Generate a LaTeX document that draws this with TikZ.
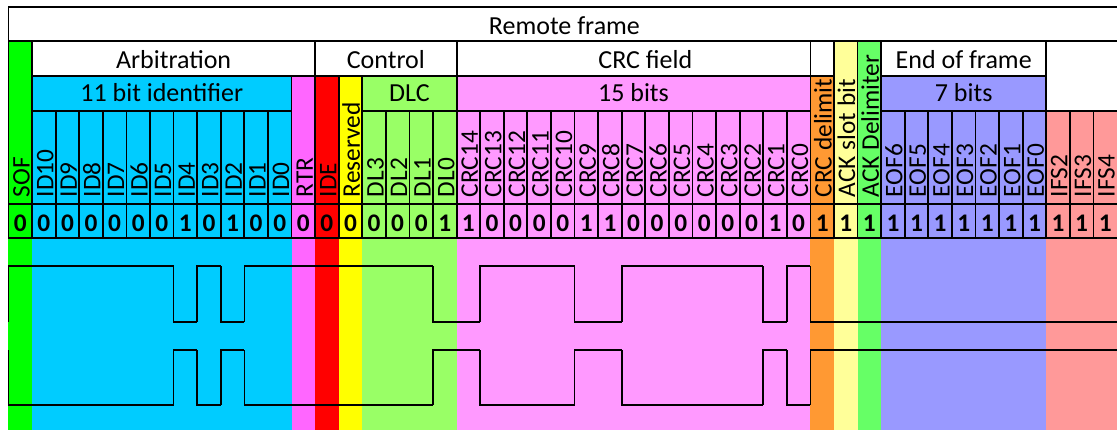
\documentclass[tikz,border=0pt]{standalone}
\usepackage{fontspec}
\setmainfont{Carlito}
\usepackage{tikz}
\usetikzlibrary{calc}
\usepackage{xcolor}

\definecolor{sofgreen}{HTML}{00FF00}
\definecolor{idcyan}{HTML}{00CCFF}
\definecolor{rtrpink}{HTML}{FF66FF}
\definecolor{idered}{HTML}{FF0000}
\definecolor{resyellow}{HTML}{FFFF00}
\definecolor{dlcgreen}{HTML}{99FF66}
\definecolor{crcpink}{HTML}{FF99FF}
\definecolor{delorange}{HTML}{FF9933}
\definecolor{ackyellow}{HTML}{FFFF99}
\definecolor{ackgreen}{HTML}{66FF66}
\definecolor{eofblue}{HTML}{9999FF}
\definecolor{ifsred}{HTML}{FF9999}

\def\framebits{0,0,0,0,0,0,0,1,0,1,0,0,0,0,0,0,0,0,1,1,0,0,0,0,1,1,0,0,0,0,0,0,1,0,1,1,1,1,1,1,1,1,1,1,1,1,1}

\begin{document}
\begin{tikzpicture}[x=17.689pt, y=-0.75pt, line width=1.35pt,
    head/.style={anchor=base, inner sep=0pt, font=\fontsize{19.5}{22}\selectfont},
    lbl/.style={rotate=90, anchor=base west, inner sep=0pt, font=\fontsize{19}{22}\selectfont},
    bitval/.style={anchor=base, inner sep=0pt, font=\fontsize{19}{22}\selectfont\bfseries},
    wave/.style={line width=1.25pt, line cap=square}]
  \useasboundingbox (-0.3604,0) rectangle (47,430);
  \clip (-0.3604,0) rectangle (47,430);
  \fill[white] (-0.3604,0) rectangle (47,430);
  \foreach \a/\b/\t/\c in {0/1/41/sofgreen, 1/12/76/idcyan, 12/13/76/rtrpink, 13/14/76/idered,
      14/15/76/resyellow, 15/19/76/dlcgreen, 19/34/76/crcpink, 34/35/76/delorange,
      35/36/41/ackyellow, 36/37/41/ackgreen, 37/44/76/eofblue, 44/47/111/ifsred}
    \fill[\c] (\a,\t) rectangle (\b,430);
  \draw (0,7) rectangle (48,41);
  \foreach \a/\b/\t/\u in {0/1/41/204, 1/13/41/76, 13/19/41/76, 19/34/41/76, 35/36/41/204,
      36/37/41/204, 37/44/41/76, 44/48/41/111, 1/12/76/111, 12/13/76/204, 13/14/76/204,
      14/15/76/204, 15/19/76/111, 19/34/76/111, 34/35/76/204, 37/44/76/111}
    \draw (\a,\t) rectangle (\b,\u);
  \draw (1,111) -- (12,111) (15,111) -- (34,111) (37,111) -- (48,111);
  \foreach \i in {1,...,12,15,16,...,34,37,38,...,46}
    \draw (\i,111) -- (\i,204);
  \draw (0,204) -- (48,204) (0,238) -- (48,238);
  \foreach \i in {0,...,46}
    \draw (\i,204) -- (\i,238);

  \node[head] (remote) at (23.57,34) {Remote frame};
  \node[head] (arb) at (7,68.3) {Arbitration};
  \node[head] (ctrl) at (16,68.3) {Control};
  \node[head] (crcfield) at (27,68.3) {CRC field};
  \node[head] (eof) at (40.5,68.3) {End of frame};
  \node[head] (ident) at (6.5,101.7) {11 bit identifier};
  \node[head] (dlc) at (17,101.7) {DLC};
  \node[head] (crcbits) at (26.5,101.7) {15 bits};
  \node[head] (eofbits) at (40.5,101.7) {7 bits};

  \foreach \t [count=\i from 0] in {SOF,ID10,ID9,ID8,ID7,ID6,ID5,ID4,ID3,ID2,ID1,ID0,RTR,IDE,Reserved,
      DL3,DL2,DL1,DL0,CRC14,CRC13,CRC12,CRC11,CRC10,CRC9,CRC8,CRC7,CRC6,CRC5,CRC4,CRC3,CRC2,CRC1,CRC0,
      CRC delimit,ACK slot bit,ACK Delimiter,EOF6,EOF5,EOF4,EOF3,EOF2,EOF1,EOF0,IFS2,IFS3,IFS4}
    \node[lbl] (name\i) at (\i+0.9,198) {\t};
  \foreach \b [count=\i from 0] in \framebits
    \node[bitval] (bit\i) at (\i+0.5,231.5) {\b};

  \foreach \b [count=\i from 0, evaluate=\b as \ylev using 266+56*\b,
      remember=\ylev as \yprev (initially 322)] in \framebits
    \draw[wave] (\i,\yprev) -- (\i,\ylev) -- (\i+1,\ylev);
  \foreach \b [count=\i from 0, evaluate=\b as \ylev using 405-55*\b,
      remember=\ylev as \yprev (initially 350)] in \framebits
    \draw[wave] (\i,\yprev) -- (\i,\ylev) -- (\i+1,\ylev);
\end{tikzpicture}
\end{document}
